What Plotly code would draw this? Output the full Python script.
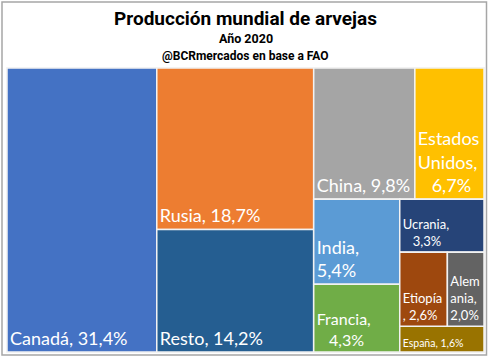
import plotly.graph_objects as go

# --- data ---
countries = ["Canadá", "Rusia", "Resto", "China", "Estados Unidos", "India",
             "Francia", "Ucrania", "Etiopía", "Alemania", "España"]
shares = [31.4, 18.7, 14.2, 9.8, 6.7, 5.4, 4.3, 3.3, 2.6, 2.0, 1.6]
NB = "\u00a0"
label_text = ["Canadá, 31,4%", "Rusia, 18,7%", "Resto, 14,2%", "China, 9,8%",
              "Estados<br>Unidos,<br>" + NB * 3 + "6,7%", "India,<br>5,4%",
              "Francia,<br>" + NB * 3 + "4,3%",
              "Ucrania,<br>" + NB * 3 + "3,3%", "Etiopía<br>, 2,6%",
              "Alem<br>ania,<br>2,0%", "España, 1,6%"]
country_parent = ["root", "A", "A", "B1", "B1", "B2L", "B2L", "B2R", "B2R2", "B2R2", "B2R"]
colors = ["#4472C4", "#ED7D31", "#255E91", "#A5A5A5", "#FFC000", "#5B9BD5",
          "#70AD47", "#264478", "#9E480E", "#636363", "#997300"]
font_sizes = [18, 18, 18, 18, 18, 18, 16, 13, 13, 13, 10.5]

# layout groups (reproduce the arrangement of the original treemap)
groups = ["root", "A", "B", "B1", "B2", "B2L", "B2R", "B2R2"]
group_parent = ["", "root", "root", "B", "B", "B2", "B2", "B2R"]

# order of nodes so that slice/dice places them as in the original
order_ids = ["root", "Canadá", "A", "Rusia", "Resto", "B", "B1", "China",
             "Estados Unidos", "B2", "B2L", "India", "Francia", "B2R", "Ucrania",
             "B2R2", "Etiopía", "Alemania", "España"]

ids, parents, values, texts, cols, sizes = [], [], [], [], [], []
for nid in order_ids:
    if nid in groups:
        i = groups.index(nid)
        ids.append(nid); parents.append(group_parent[i]); values.append(0)
        texts.append(""); cols.append("rgba(255,255,255,0)"); sizes.append(10)
    else:
        i = countries.index(nid)
        ids.append(nid); parents.append(country_parent[i]); values.append(shares[i])
        texts.append(label_text[i]); cols.append(colors[i]); sizes.append(font_sizes[i])

fig = go.Figure(go.Treemap(
    ids=ids,
    labels=[t if t else " " for t in ids],
    parents=parents,
    values=values,
    branchvalues="remainder",
    sort=False,
    text=texts,
    textinfo="text",
    texttemplate="%{text}",
    textposition="bottom left",
    textfont=dict(family="Lato, Open Sans, sans-serif", color="white", size=sizes),
    marker=dict(colors=cols, line=dict(color="#F2F2F2", width=1.5),
                pad=dict(t=0, l=0, r=0, b=0), depthfade=False),
    tiling=dict(packing="slice-dice", pad=0),
    pathbar=dict(visible=False),
    hoverinfo="skip",
))

W, H = 492, 359
ml, mr, mt, mb = 7, 8, 68, 7
ph = H - mt - mb
pw = W - ml - mr

def py(y):
    return (H - mb - y) / ph

def px(x):
    return (x - ml) / pw

title_font = "Roboto, sans-serif"
fig.add_annotation(text="<b>Producción mundial de arvejas</b>", x=0.5, y=py(18.5),
                   xref="paper", yref="paper", showarrow=False, yanchor="middle",
                   borderpad=0,
                   font=dict(family=title_font, size=19, color="black"))
fig.add_annotation(text="<b>Año 2020</b>", x=0.5, y=py(38.5),
                   xref="paper", yref="paper", showarrow=False, yanchor="middle",
                   borderpad=0,
                   font=dict(family=title_font, size=12.5, color="black"))
fig.add_annotation(text="<b>@BCRmercados en base a FAO</b>", x=0.5, y=py(55.5),
                   xref="paper", yref="paper", showarrow=False, yanchor="middle",
                   borderpad=0,
                   font=dict(family=title_font, size=12, color="black"))

fig.add_shape(type="rect", xref="paper", yref="paper",
              x0=px(2), x1=px(486.5), y0=py(355), y1=py(2),
              line=dict(color="#A6A6A6", width=1.5), fillcolor="rgba(0,0,0,0)")

fig.update_layout(
    width=W, height=H,
    margin=dict(l=ml, r=mr, t=mt, b=mb),
    paper_bgcolor="white",
    plot_bgcolor="white",
    showlegend=False,
)

fig.write_html("out.html", config={"displayModeBar": False},
               post_script="document.body.style.margin='0';")
